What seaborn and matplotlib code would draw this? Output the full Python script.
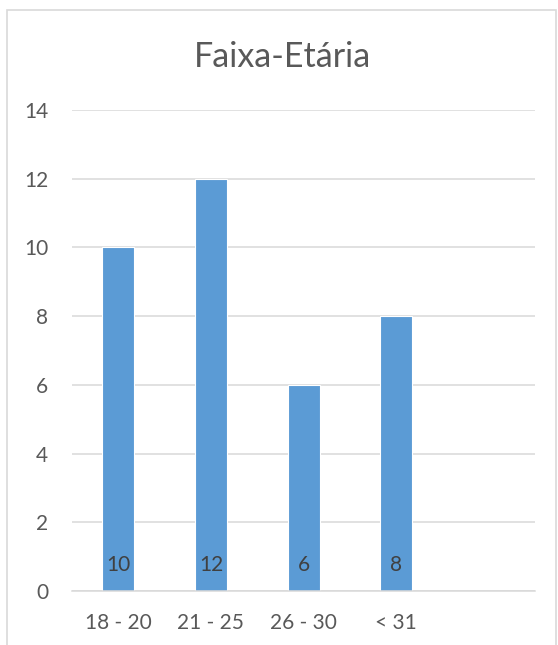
import matplotlib
matplotlib.use("Agg")
import matplotlib.pyplot as plt
import matplotlib.patches as mpatches
import seaborn as sns

# Age-group counts
categories = ["18 - 20", "21 - 25", "26 - 30", "< 31"]
counts = [10, 12, 6, 8]
n_slots = 5  # the category axis keeps one empty slot at the end
yticks = [0, 2, 4, 6, 8, 10, 12, 14]
title = "Faixa-Etária"

sns.set_theme(style="white")
plt.rcParams["font.family"] = ["Lato", "DejaVu Sans"]

text_color = "#595959"
grid_color = "#D9D9D9"
bar_color = "#5B9BD5"
fs = 15

fig = plt.figure(figsize=(5.58, 6.45), dpi=100)
ax = fig.add_axes([0.129, 0.0837, 0.830, 0.7458])

sns.barplot(x=categories, y=counts, color=bar_color, width=0.345,
            edgecolor="white", linewidth=0.8, saturation=1, ax=ax, zorder=3)

ax.set_xlim(-0.5, n_slots - 0.5)
ax.set_ylim(0, 14)
ax.set_yticks(yticks)
ax.set_yticklabels([str(t) for t in yticks])
ax.set_xlabel("")
ax.set_ylabel("")

# horizontal gridlines
ax.yaxis.grid(True, color=grid_color, linewidth=1.1, zorder=0)
ax.xaxis.grid(False)
for side in ["left", "right", "top"]:
    ax.spines[side].set_visible(False)
ax.spines["bottom"].set_color(grid_color)
ax.spines["bottom"].set_linewidth(1.1)
ax.spines["bottom"].set_zorder(4)

# category labels at centres, tick marks at category boundaries
ax.set_xticks(range(len(categories)))
ax.set_xticklabels(categories)
ax.set_xticks([i - 0.5 for i in range(n_slots + 1)], minor=True)
ax.tick_params(axis="x", which="major", length=0, pad=16, labelsize=fs, colors=text_color)
ax.tick_params(axis="x", which="minor", length=5, width=1.1, color=grid_color, direction="out")
ax.tick_params(axis="y", length=0, pad=17, labelsize=fs, colors=text_color)

# value labels at the base of each bar
for i, v in enumerate(counts):
    ax.annotate(str(v), xy=(i, 0), xytext=(0, 18.5), textcoords="offset points",
                ha="center", va="center", fontsize=fs, color="#404040", zorder=5)

fig.text(0.507, 0.912, title, ha="center", va="center", fontsize=24.5, color=text_color)

# chart frame
frame = mpatches.Rectangle((7 / 558, -0.01), (556 - 7) / 558, (645 - 10) / 645 + 0.01,
                           transform=fig.transFigure, fill=False,
                           edgecolor=grid_color, linewidth=1.2)
fig.patches.append(frame)

fig.savefig("out.png", dpi=100, facecolor="white")
